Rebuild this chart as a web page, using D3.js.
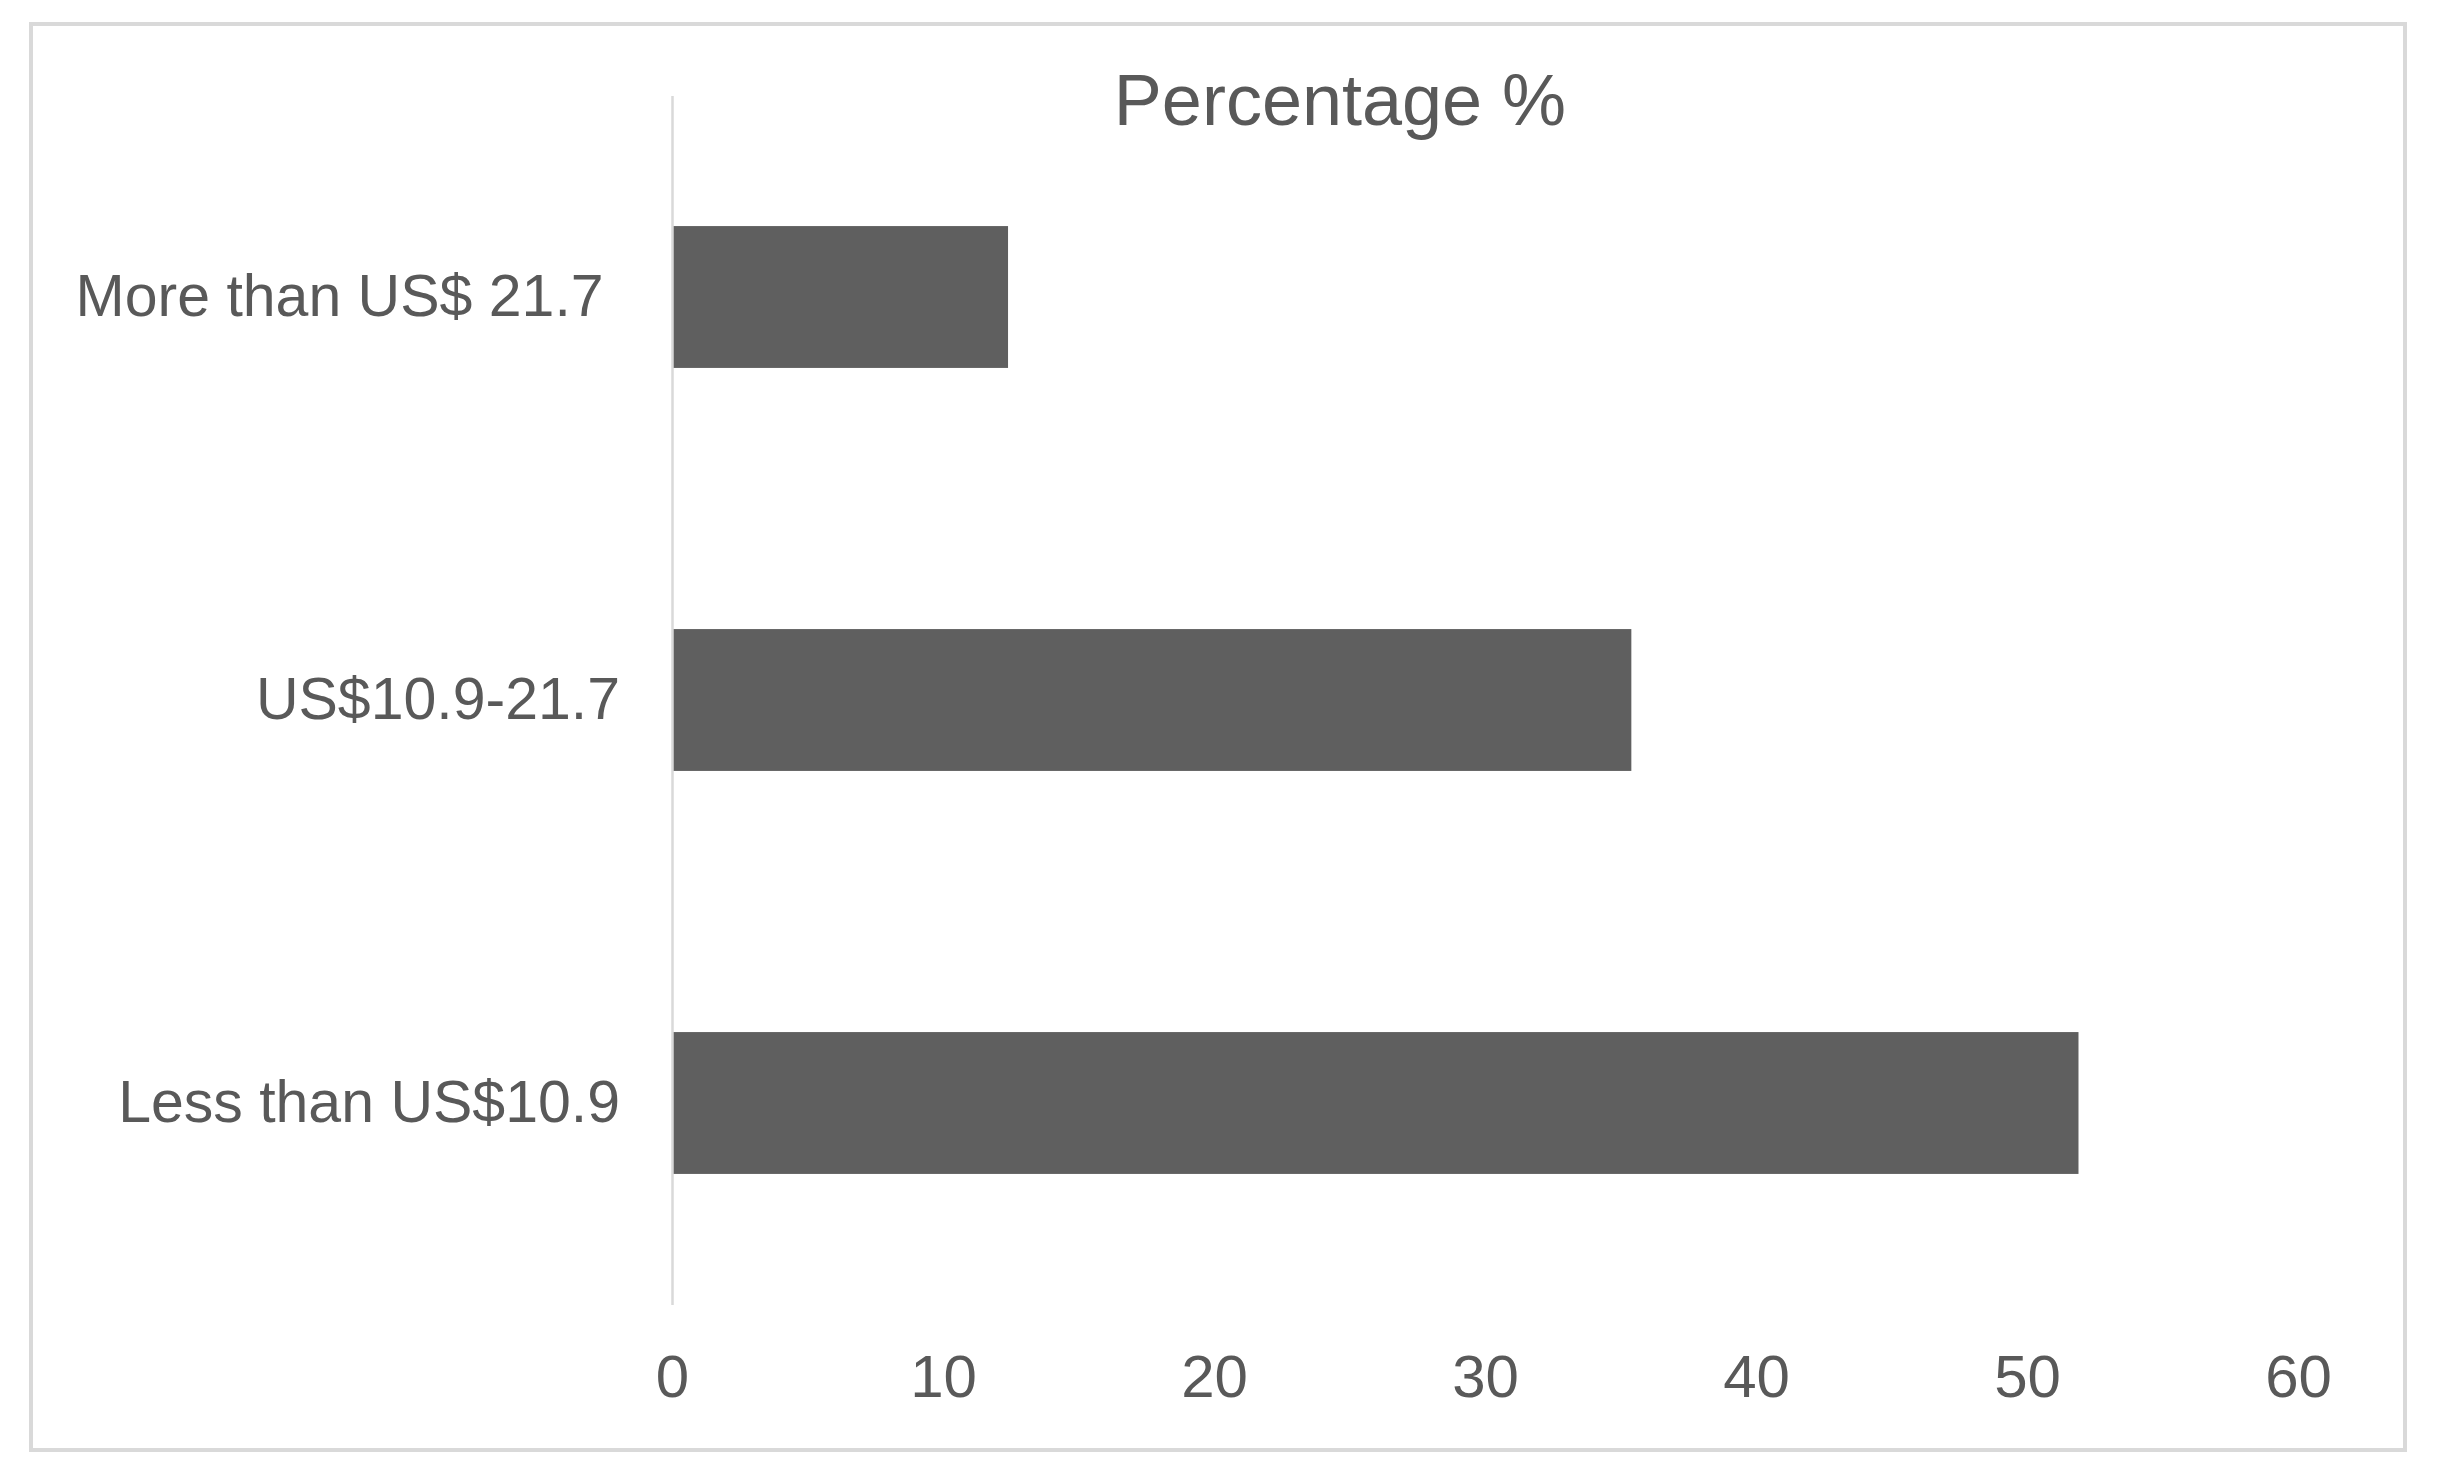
<!DOCTYPE html>
<html>
<head>
<meta charset="utf-8">
<script src="https://cdn.jsdelivr.net/npm/d3@7"></script>
<style>
  html, body { margin: 0; padding: 0; background: #ffffff; }
  svg { display: block; }
  text { font-family: "Liberation Sans", Arial, sans-serif; fill: #595959; }
</style>
</head>
<body>
<svg id="chart" width="2450" height="1484"></svg>
<script>
// Data
const categories = ["More than US$ 21.7 ", "US$10.9-21.7", "Less than US$10.9"];
const values = [12.4, 35.4, 51.9];
const xTicks = [0, 10, 20, 30, 40, 50, 60];
const title = "Percentage %";

const W = 2450, H = 1484;
const svg = d3.select("#chart");

// outer chart border
svg.append("rect")
  .attr("x", 31).attr("y", 24)
  .attr("width", 2374).attr("height", 1426)
  .attr("fill", "#ffffff")
  .attr("stroke", "#d9d9d9")
  .attr("stroke-width", 4);

const plot = { left: 672, right: 2298, top: 95.5, bottom: 1304.5 };

const x = d3.scaleLinear().domain([0, 60]).range([plot.left, plot.right]);
const y = d3.scaleBand().domain(categories).range([plot.top, plot.bottom])
  .paddingInner(0.648).paddingOuter(0.324);

// bars
svg.append("g").selectAll("rect")
  .data(categories.map((c, i) => ({ c, v: values[i] })))
  .join("rect")
  .attr("x", x(0))
  .attr("y", d => y(d.c))
  .attr("width", d => x(d.v) - x(0))
  .attr("height", y.bandwidth())
  .attr("fill", "#5f5f5f");

// y axis (category axis line + labels)
const yAxis = svg.append("g")
  .attr("transform", `translate(${plot.left},0)`)
  .call(d3.axisLeft(y).tickSize(0).tickSizeOuter(0).tickPadding(52));
yAxis.select(".domain").attr("stroke", "#d9d9d9").attr("stroke-width", 2.5);
yAxis.selectAll("text")
  .style("font-size", "59px")
  .style("white-space", "pre")
  .attr("fill", "#595959");

// x axis labels
const xAxis = svg.append("g")
  .attr("transform", `translate(0,${plot.bottom})`)
  .call(d3.axisBottom(x).tickValues(xTicks).tickSize(0).tickPadding(50).tickFormat(d3.format("d")));
xAxis.select(".domain").remove();
xAxis.selectAll("text")
  .style("font-size", "60px")
  .attr("fill", "#595959");

// title
svg.append("text")
  .attr("x", 1340).attr("y", 125)
  .attr("text-anchor", "middle")
  .style("font-size", "72px")
  .text(title);
</script>
</body>
</html>
